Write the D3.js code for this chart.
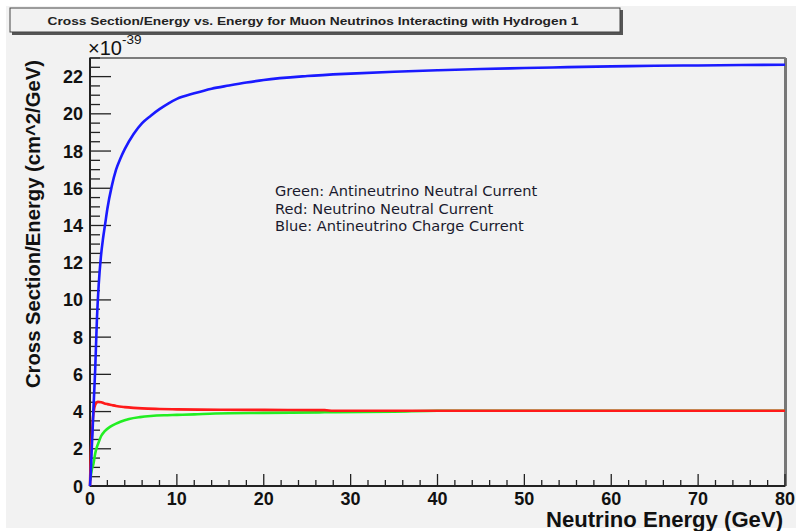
<!DOCTYPE html>
<html><head><meta charset="utf-8">
<script src="https://cdn.jsdelivr.net/npm/d3@7"></script>
<style>body{margin:0;background:#fff}svg{display:block}</style>
</head><body>
<svg id="c" width="796" height="531"></svg>
<script>
const chartTitle = "Cross Section/Energy vs. Energy for Muon Neutrinos Interacting with Hydrogen 1";
const xTitle = "Neutrino Energy (GeV)";
const yTitle = "Cross Section/Energy (cm^2/GeV)";
const legendLines = ["Green: Antineutrino Neutral Current","Red: Neutrino Neutral Current","Blue: Antineutrino Charge Current"];
const xTicks = [0,10,20,30,40,50,60,70,80];
const yTicks = [0,2,4,6,8,10,12,14,16,18,20,22];

// energy (GeV), value (x1e-39 cm^2/GeV)
const blueE = [0,0.1,0.2,0.3,0.4,0.5,0.6,0.8,1,1.25,1.5,1.75,2,2.5,3,3.5,4,5,6,7,8,9,10,12,14,16,18,20,25,30,35,40,45,50,55,60,65,70,75,80];
const blueV = [0,0.8,2,3,4.2,5.2,6.3,9,10.8,12.3,13.3,14.1,14.9,16.1,17,17.6,18.1,18.9,19.5,19.9,20.25,20.55,20.8,21.1,21.35,21.52,21.68,21.82,22.03,22.16,22.26,22.34,22.41,22.46,22.51,22.55,22.58,22.6,22.62,22.64];
const redE = [0,0.05,0.1,0.2,0.35,0.5,0.7,0.9,1.3,1.6,2,2.5,3,4,5,6,8,10,15,20,27,28,40,60,80];
const redV = [0,1.0,1.8,2.6,3.7,4.2,4.45,4.52,4.5,4.45,4.4,4.35,4.3,4.24,4.2,4.17,4.14,4.12,4.1,4.09,4.08,4.04,4.04,4.04,4.04];
const greenE = [0.05,0.1,0.2,0.4,0.6,0.8,1,1.3,1.7,2.3,3,3.5,4.5,5.75,7,8.5,10,12,14.4,20,27,35,40,80];
const greenV = [0.3,0.55,0.86,1.2,1.75,2.1,2.35,2.7,2.95,3.18,3.35,3.45,3.6,3.7,3.76,3.8,3.82,3.85,3.9,3.93,3.96,3.99,4.04,4.04];

const svg = d3.select("#c");
const W = 796;
const bold = "'Liberation Sans', Arial, Helvetica, sans-serif";

// page background
svg.append("rect").attr("x",6).attr("y",6).attr("width",W-6).attr("height",522).attr("fill","#f2f2f2");

// title box with shadow
svg.append("rect").attr("x",12).attr("y",10).attr("width",611).attr("height",25).attr("fill","#555");
svg.append("rect").attr("x",10).attr("y",8).attr("width",610).attr("height",24).attr("fill","#f2f2f2").attr("stroke","#444").attr("stroke-width",1);
svg.append("text").attr("x",313).attr("y",24.5).attr("text-anchor","middle")
  .attr("font-family",bold).attr("font-weight","bold").attr("font-size",11.5).attr("fill","#222")
  .attr("textLength",531).attr("lengthAdjust","spacingAndGlyphs").text(chartTitle);

const L=90, R=785, T=58, B=486;
const x = d3.scaleLinear().domain([0,80]).range([L,R]);
const y = d3.scaleLinear().domain([0,23]).range([B,T]);

// frame
svg.append("rect").attr("x",L).attr("y",T).attr("width",R-L).attr("height",B-T)
  .attr("fill","none").attr("stroke","#555").attr("stroke-width",1.5);
svg.append("line").attr("x1",R+0.5).attr("x2",R+0.5).attr("y1",T).attr("y2",B).attr("stroke","#777").attr("stroke-width",3);

// y ticks
const gy = svg.append("g");
d3.range(0,23.01,0.5).forEach(v=>{
  const major = Math.abs(v/2-Math.round(v/2))<1e-9;
  gy.append("line").attr("x1",L).attr("x2",L+(major?21:10)).attr("y1",y(v)).attr("y2",y(v)).attr("stroke","#222").attr("stroke-width",1.3);
});
yTicks.forEach(v=>{
  gy.append("text").attr("x",83).attr("y",y(v)+6.5).attr("text-anchor","end")
    .attr("font-family",bold).attr("font-weight","bold").attr("font-size",18).attr("fill","#111").text(v);
});
// x ticks
const gx = svg.append("g");
d3.range(0,80.01,2).forEach(v=>{
  const major = v%10===0;
  gx.append("line").attr("x1",x(v)).attr("x2",x(v)).attr("y1",B).attr("y2",B-(major?12:6)).attr("stroke","#222").attr("stroke-width",1.3);
});
xTicks.forEach(v=>{
  gx.append("text").attr("x",x(v)).attr("y",505).attr("text-anchor","middle")
    .attr("font-family",bold).attr("font-weight","bold").attr("font-size",18).attr("fill","#111").text(v);
});
// axis lines
svg.append("line").attr("x1",L).attr("x2",L).attr("y1",T).attr("y2",B).attr("stroke","#222").attr("stroke-width",2);
svg.append("line").attr("x1",L).attr("x2",R).attr("y1",B).attr("y2",B).attr("stroke","#222").attr("stroke-width",2);

// exponent
const ex = svg.append("text").attr("x",88).attr("y",55).attr("font-family",bold).attr("font-size",20).attr("fill","#111");
ex.append("tspan").text("\u00d710");
ex.append("tspan").attr("dy",-11).attr("font-size",13.5).text("-39");

// axis titles
svg.append("text").attr("x",783).attr("y",527).attr("text-anchor","end")
  .attr("font-family",bold).attr("font-weight","bold").attr("font-size",21.5).attr("fill","#111")
  .attr("textLength",237).attr("lengthAdjust","spacingAndGlyphs").text(xTitle);
svg.append("text").attr("transform","translate(40,388) rotate(-90)").attr("text-anchor","start")
  .attr("font-family",bold).attr("font-weight","bold").attr("font-size",20.3).attr("fill","#111")
  .attr("textLength",328).attr("lengthAdjust","spacingAndGlyphs").text(yTitle);

// curves
const line = d3.line().x(d=>x(d[0])).y(d=>y(d[1])).curve(d3.curveMonotoneX);
const series = [
  {E:greenE,V:greenV,c:"#22ee22"},
  {E:redE,V:redV,c:"#ff1a1a"},
  {E:blueE,V:blueV,c:"#1a1aff"}
];
series.forEach(s=>{
  svg.append("path").datum(s.E.map((e,i)=>[e,s.V[i]])).attr("d",line)
    .attr("fill","none").attr("stroke",s.c).attr("stroke-width",2.6).attr("stroke-linejoin","round");
});

// legend text
legendLines.forEach((t,i)=>{
  svg.append("text").attr("x",275).attr("y",196+i*17.5)
    .attr("font-family","'DejaVu Sans', Verdana, sans-serif").attr("font-size",14.6).attr("fill","#1a1a2e").text(t);
});
</script>
</body></html>
